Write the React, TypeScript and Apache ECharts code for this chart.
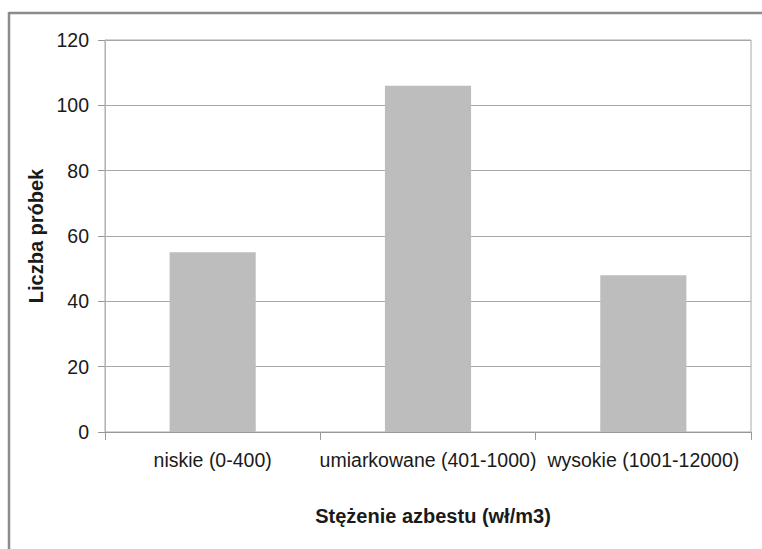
import React, { useEffect, useRef } from "react";
import * as echarts from "echarts";

const categories = ["niskie (0-400)", "umiarkowane (401-1000)", "wysokie (1001-12000)"];
const sampleCounts = [55, 106, 48];
const yTicks = { min: 0, max: 120, interval: 20 };
const xAxisTitle = "Stężenie azbestu (wł/m3)";
const yAxisTitle = "Liczba próbek";

export default function App() {
  const ref = useRef<HTMLDivElement>(null);
  useEffect(() => {
    if (!ref.current) return;
    const chart = echarts.init(ref.current, null, { renderer: "svg" });
    const font = "'Liberation Sans', Arial, sans-serif";
    chart.setOption({
      animation: false,
      backgroundColor: "#ffffff",
      textStyle: { fontFamily: font },
      grid: {
        left: 105,
        right: 11,
        top: 40,
        bottom: 117,
        show: true,
        borderColor: "#a8a8a8",
        borderWidth: 1,
        backgroundColor: "transparent",
      },
      graphic: [
        {
          type: "line",
          shape: { x1: 9, y1: 13, x2: 762, y2: 13 },
          style: { stroke: "#8c8c8c", lineWidth: 2.5 },
          silent: true,
        },
        {
          type: "line",
          shape: { x1: 9, y1: 12, x2: 9, y2: 549 },
          style: { stroke: "#8c8c8c", lineWidth: 2.5 },
          silent: true,
        },
      ],
      xAxis: {
        type: "category",
        data: categories,
        boundaryGap: true,
        name: xAxisTitle,
        nameLocation: "middle",
        nameGap: 74,
        nameTextStyle: {
          fontFamily: font,
          fontSize: 20,
          fontWeight: "bold",
          color: "#1a1a1a",
          padding: [0, 0, 0, 10],
        },
        axisLine: { show: true, lineStyle: { color: "#999999", width: 1 } },
        axisTick: { show: true, length: 8, alignWithLabel: false, lineStyle: { color: "#999999" } },
        axisLabel: {
          interval: 0,
          fontFamily: font,
          fontSize: 19.5,
          color: "#1a1a1a",
          margin: 18,
        },
        splitLine: { show: false },
      },
      yAxis: {
        type: "value",
        min: yTicks.min,
        max: yTicks.max,
        interval: yTicks.interval,
        name: yAxisTitle,
        nameLocation: "middle",
        nameGap: 52,
        nameTextStyle: {
          fontFamily: font,
          fontSize: 20,
          fontWeight: "bold",
          color: "#1a1a1a",
        },
        axisLine: { show: true, lineStyle: { color: "#b5b5b5", width: 1 } },
        axisTick: { show: true, length: 7, lineStyle: { color: "#999999" } },
        axisLabel: {
          fontFamily: font,
          fontSize: 19.5,
          color: "#1a1a1a",
          margin: 16,
        },
        splitLine: { show: true, lineStyle: { color: "#a8a8a8", width: 1 } },
      },
      series: [
        {
          type: "bar",
          data: sampleCounts,
          barWidth: "40%",
          itemStyle: { color: "#bdbdbd" },
          silent: true,
        },
      ],
    });
    return () => chart.dispose();
  }, []);
  return <div ref={ref} style={{ width: 762, height: 549, position: "absolute", left: 0, top: 0 }} />;
}
